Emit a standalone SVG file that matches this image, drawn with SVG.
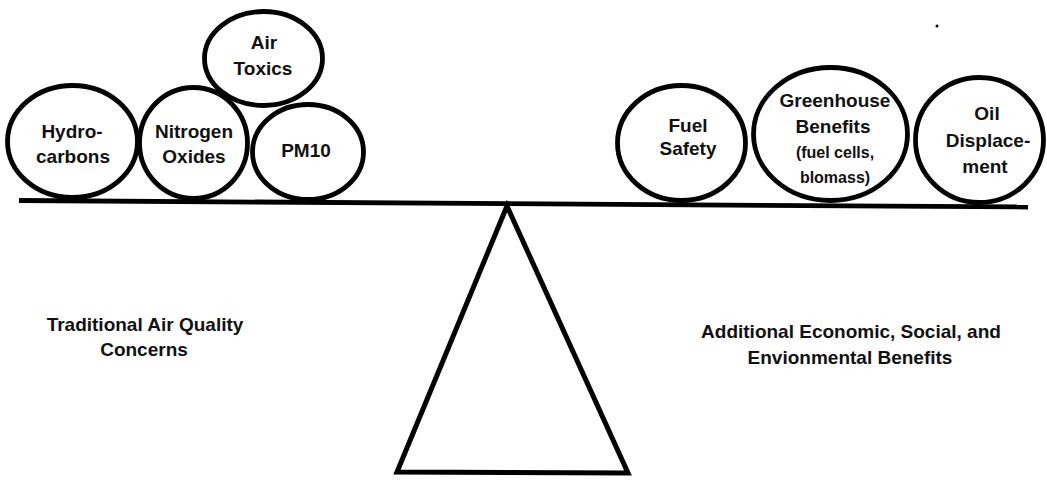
<svg xmlns="http://www.w3.org/2000/svg" width="1047" height="480" viewBox="0 0 1047 480">
<style>
.c{fill:#fff;stroke:#000;stroke-width:4.8}
.t{font-family:"Liberation Sans",Arial,sans-serif;font-weight:bold;font-size:19px;fill:#111;text-anchor:middle}
.s{font-size:16px}
</style>
<rect width="1047" height="480" fill="#fff"/>
<g id="connectors">
<line x1="19" y1="200.5" x2="1028" y2="207" stroke="#000" stroke-width="4.8"/>
<polygon points="507,206 397,472 628,473" fill="none" stroke="#000" stroke-width="5" stroke-linejoin="miter"/>
</g>
<g id="hydrocarbons"><ellipse class="c" cx="72.5" cy="141.5" rx="65" ry="56"/><text class="t" x="72" y="138">Hydro-</text><text class="t" x="73" y="163">carbons</text></g>
<g id="nitrogen-oxides"><ellipse class="c" cx="193.5" cy="143" rx="54" ry="55.5"/><text class="t" x="194" y="138">Nitrogen</text><text class="t" x="194" y="163">Oxides</text></g>
<g id="air-toxics"><ellipse class="c" cx="263.5" cy="58.5" rx="59" ry="47"/><text class="t" x="264" y="49">Air</text><text class="t" x="263" y="75">Toxics</text></g>
<g id="pm10"><ellipse class="c" cx="308" cy="152" rx="55.5" ry="47.5"/><text class="t" x="306" y="157">PM10</text></g>
<g id="fuel-safety"><ellipse class="c" cx="681.5" cy="143" rx="64" ry="57.5"/><text class="t" x="688" y="132">Fuel</text><text class="t" x="688" y="155">Safety</text></g>
<g id="greenhouse"><ellipse class="c" cx="830.5" cy="134" rx="77" ry="66.5"/><text class="t" x="835" y="107">Greenhouse</text><text class="t" x="833" y="133">Benefits</text><text class="t s" x="835" y="158">(fuel cells,</text><text class="t s" x="835" y="183">blomass)</text></g>
<g id="oil-displacement"><ellipse class="c" cx="979.5" cy="140" rx="64" ry="62.5"/><text class="t" x="987" y="120">Oil</text><text class="t" x="988" y="147">Displace-</text><text class="t" x="985" y="173">ment</text></g>
<g id="traditional"><text class="t" x="145" y="331">Traditional Air Quality</text><text class="t" x="144" y="356">Concerns</text></g>
<g id="additional"><text class="t" x="851" y="338">Additional Economic, Social, and</text><text class="t" x="850" y="364">Envionmental Benefits</text></g>
<circle cx="937" cy="26" r="1.5" fill="#000"/>
</svg>
